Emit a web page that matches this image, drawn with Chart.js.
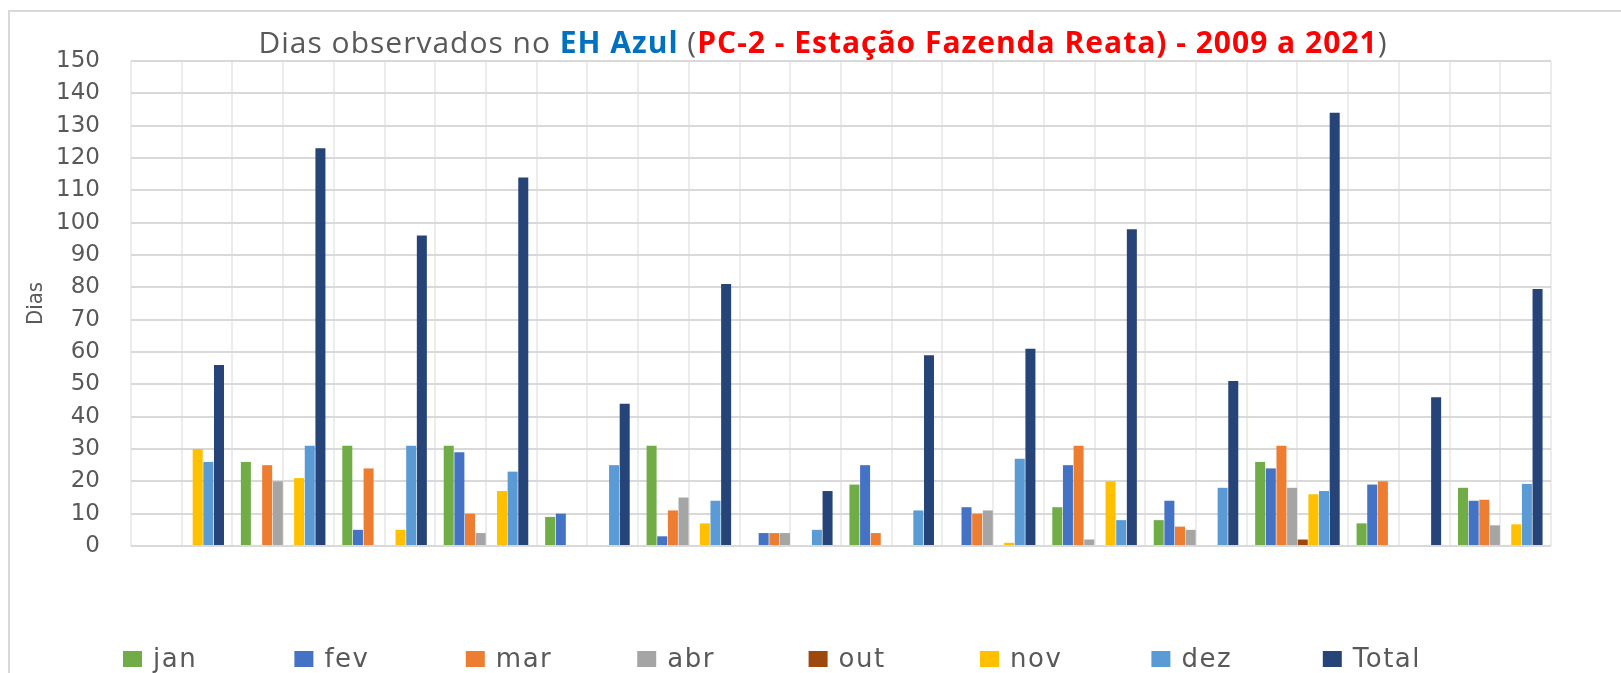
<!DOCTYPE html>
<html>
<head>
<meta charset="utf-8">
<title>Dias observados no EH Azul</title>
<script src="https://cdn.jsdelivr.net/npm/chart.js@4.4.0/dist/chart.umd.min.js"></script>
<style>
body { margin: 0; background: #fff; }
#wrap { position: relative; width: 1621px; height: 673px; overflow: hidden; }
#frame { position: absolute; left: 8px; top: 10px; width: 1800px; height: 900px; border: 2px solid #d9d9d9; }
#myChart { position: absolute; left: 0; top: 0; }
</style>
</head>
<body>
<div id="wrap">
  <div id="frame"></div>
  <canvas id="myChart" width="1621" height="673"></canvas>
</div>
<script>
// categorias (anos + média) - os rótulos não aparecem no gráfico original
var years = ["2009", "2010", "2011", "2012", "2013", "2014", "2015", "2016", "2017", "2018", "2019", "2020", "2021", "Média"];

// dias observados por mês
var jan   = [0, 26, 31, 31, 9, 31, 0, 19, 0, 12, 8, 26, 7, 18];
var fev   = [0, 0, 5, 29, 10, 3, 4, 25, 12, 25, 14, 24, 19, 14];
var mar   = [0, 25, 24, 10, 0, 11, 4, 4, 10, 31, 6, 31, 20, 14.3];
var abr   = [0, 20, 0, 4, 0, 15, 4, 0, 11, 2, 5, 18, 0, 6.4];
var out   = [0, 0, 0, 0, 0, 0, 0, 0, 0, 0, 0, 2, 0, 0];
var nov   = [30, 21, 5, 17, 0, 7, 0, 0, 1, 20, 0, 16, 0, 6.7];
var dez   = [26, 31, 31, 23, 25, 14, 5, 11, 27, 8, 18, 17, 0, 19.2];
var total = [56, 123, 96, 114, 44, 81, 17, 59, 61, 98, 51, 134, 46, 79.5];

// eixo y
var yMin = 0, yMax = 150, yStep = 10;

// meias-categorias, so para as linhas verticais da grade (igual ao Excel)
var gridCells = [];
years.forEach(function (y) { gridCells.push(y, y); });

var greyText = '#595959';

// titulo em varias cores
var titleParts = [
  { text: 'Dias observados no ', color: greyText, bold: false },
  { text: 'EH Azul', color: '#0070C0', bold: true },
  { text: ' (', color: greyText, bold: false },
  { text: 'PC-2 - Estação Fazenda Reata) - 2009 a 2021', color: '#FF0000', bold: true },
  { text: ')', color: greyText, bold: false }
];

var titlePlugin = {
  id: 'multiTitle',
  afterDraw: function (chart) {
    var c = chart.ctx;
    var size = 30;
    c.save();
    c.textBaseline = 'middle';
    c.letterSpacing = '1px';
    var w = 0;
    titleParts.forEach(function (p) {
      c.font = (p.bold ? 'bold ' : '') + size + 'px "Open Sans", sans-serif';
      p.w = c.measureText(p.text).width;
      w += p.w;
    });
    var x = 823 - w / 2;
    titleParts.forEach(function (p) {
      c.font = (p.bold ? 'bold ' : '') + size + 'px "Open Sans", sans-serif';
      c.fillStyle = p.color;
      c.fillText(p.text, x, 44);
      x += p.w;
    });
    c.restore();
  }
};

// legenda com entradas espaçadas igualmente, como no Excel
var legendPlugin = {
  id: 'evenLegend',
  afterDraw: function (chart) {
    var c = chart.ctx;
    c.save();
    c.font = '26px "DejaVu Sans", sans-serif';
    c.letterSpacing = '1.5px';
    c.textBaseline = 'middle';
    chart.data.datasets.forEach(function (ds, i) {
      var x = 123 + i * 171.4;
      var y = 659;
      c.fillStyle = ds.backgroundColor;
      c.fillRect(x, y - 8, 19, 16);
      c.fillStyle = greyText;
      c.fillText(ds.label, x + 30, y + 1);
    });
    c.restore();
  }
};

function serie(label, values, color) {
  return {
    label: label,
    data: values,
    backgroundColor: color,
    borderWidth: 0,
    xAxisID: 'x',
    categoryPercentage: 0.84,
    barPercentage: 0.94
  };
}

var ctx = document.getElementById('myChart').getContext('2d');
var myChart = new Chart(ctx, {
  type: 'bar',
  data: {
    labels: years,
    datasets: [
      serie('jan', jan, '#70AD47'),
      serie('fev', fev, '#4472C4'),
      serie('mar', mar, '#ED7D31'),
      serie('abr', abr, '#A5A5A5'),
      serie('out', out, '#9E480E'),
      serie('nov', nov, '#FFC000'),
      serie('dez', dez, '#5B9BD5'),
      serie('Total', total, '#264478')
    ]
  },
  options: {
    responsive: false,
    animation: false,
    layout: { padding: { left: 23, right: 70, top: 61, bottom: 127 } },
    plugins: {
      legend: { display: false },
      title: { display: false },
      tooltip: { enabled: false }
    },
    scales: {
      x: {
        offset: true,
        grid: { display: false, drawTicks: false },
        border: { display: false },
        ticks: { display: false }
      },
      x2: {
        type: 'category',
        labels: gridCells,
        position: 'bottom',
        offset: true,
        grid: { display: true, offset: true, color: '#ececec', lineWidth: 2, drawTicks: false },
        border: { display: false },
        ticks: { display: false }
      },
      y: {
        min: yMin,
        max: yMax,
        ticks: {
          stepSize: yStep,
          color: greyText,
          padding: 31,
          font: { family: '"DejaVu Sans", sans-serif', size: 23 }
        },
        grid: { color: '#d9d9d9', lineWidth: 2, drawTicks: false },
        border: { display: false },
        title: {
          display: true,
          text: 'Dias',
          color: greyText,
          padding: 0,
          font: { family: '"Liberation Sans Narrow", "DejaVu Sans Condensed", sans-serif', size: 22 }
        },
        afterFit: function (s) { s.width = 108; }
      }
    }
  },
  plugins: [titlePlugin, legendPlugin]
});
</script>
</body>
</html>
